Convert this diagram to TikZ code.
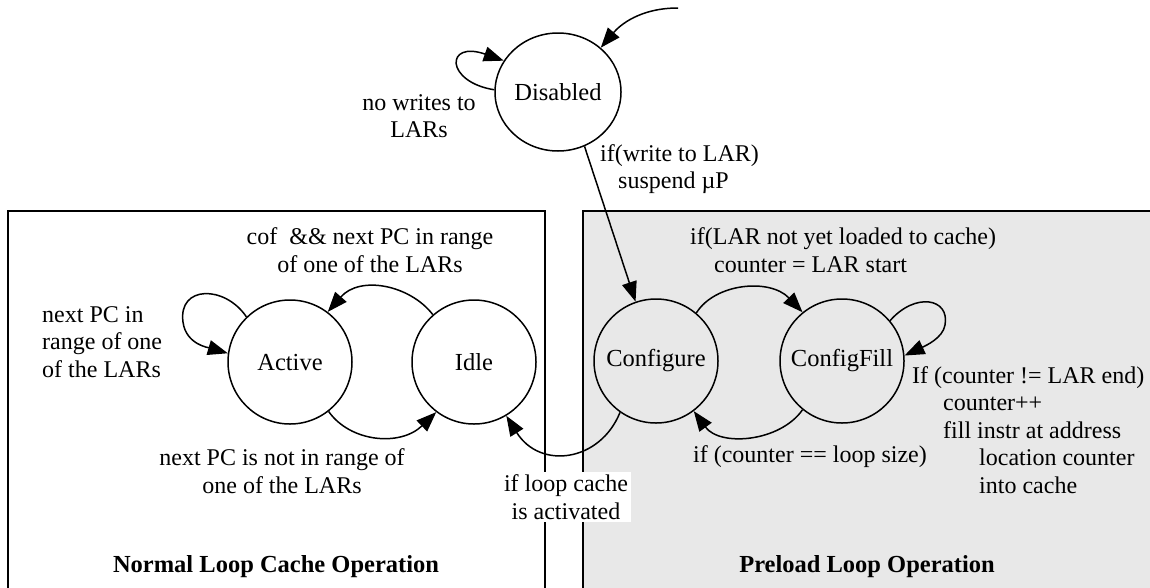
\documentclass[tikz,border=0pt]{standalone}
\usepackage{fontspec}
\setmainfont{Liberation Serif}
\usetikzlibrary{arrows.meta,shapes.geometric}
\definecolor{boxgray}{RGB}{232,232,232}
\begin{document}
\begin{tikzpicture}[x=1pt,y=-1pt,
  state/.style={circle,draw,line width=1.5pt,minimum size=124pt,inner sep=0pt,font=\fontsize{24.5}{28}\selectfont},
  lbl/.style={font=\fontsize{24}{27.5}\selectfont,inner sep=0pt},
  trans/.style={line width=1.5pt,-{Triangle[length=20pt,width=15pt]}},
  area/.style={line width=2pt},
  title/.style={font=\fontsize{24.5}{28}\selectfont\bfseries,inner sep=0pt}]
\useasboundingbox (0,0) rectangle (1150,587);
\clip (0,0) rectangle (1150,587);
% areas
\draw[area] (8,600) -- (8,211) -- (545,211) -- (545,600);
\draw[area,fill=boxgray] (583,600) -- (583,211) -- (1160,211) -- (1160,600);
% states
\node[state,ellipse,minimum width=126pt,minimum height=118pt] (dis) at (558,92) {Disabled};
\node[state] (act) at (290,362) {Active};
\node[state] (idle) at (474,362) {Idle};
\node[state] (conf) at (656,361) {Configure};
\node[state] (fill) at (842,361) {ConfigFill};
\coordinate (init) at (678,8);
% transitions
\draw[trans] (init) .. controls (640,8) and (620,25) .. (dis.46);
\draw[trans] (dis.178) .. controls (445,82) and (445,40) .. (dis.150);
\draw[trans] (dis.-64) -- (conf.109);
\draw[trans] (act.134) .. controls (225,285) and (178,285) .. (183,322) .. controls (186,345) and (210,348) .. (act.172);
\draw[trans] (idle.131) .. controls (410,285) and (360,275) .. (act.53);
\draw[trans] (act.-52) .. controls (350,442) and (400,447) .. (idle.-127);
\draw[trans] (conf.50) .. controls (715,283) and (770,278) .. (fill.129);
\draw[trans] (fill.40) .. controls (915,292) and (950,298) .. (945,325) .. controls (943,338) and (925,346) .. (fill.5);
\draw[trans] (fill.-129) .. controls (780,442) and (720,447) .. (conf.-53);
\draw[trans] (conf.-125) .. controls (600,462) and (540,470) .. (idle.-59);
% labels
\node[lbl,align=center] (lnw) at (419,116) {no writes to\\LARs};
\node[lbl,align=left,anchor=west] (lwl) at (600,169) {if(write to LAR)\\\hspace*{18pt}suspend µP};
\node[lbl,align=center] (lcof) at (370,250) {cof\ \ \&\& next PC in range\\of one of the LARs};
\node[lbl,align=left,anchor=west] (lnext) at (42,342) {next PC in\\range of one\\of the LARs};
\node[lbl,align=center] (lnot) at (282,471) {next PC is not in range of\\one of the LARs};
\node[lbl,align=left,anchor=west] (lnotyet) at (690,250) {if(LAR not yet loaded to cache)\\\hspace*{24pt}counter = LAR start};
\node[lbl,align=left,anchor=west] (lcnt) at (912,430) {If (counter != LAR end)\\\hspace*{31pt}counter++\\\hspace*{31pt}fill instr at address\\\hspace*{67pt}location counter\\\hspace*{67pt}into cache};
\node[lbl,align=center] (lsize) at (810,457) {if (counter == loop size)};
\node[lbl,align=center,fill=white,inner sep=3pt] (lact) at (566,497) {if loop cache\\is activated};
% titles
\node[title] (tnorm) at (276,567) {Normal Loop Cache Operation};
\node[title] (tpre) at (867,567) {Preload Loop Operation};
\end{tikzpicture}
\end{document}
